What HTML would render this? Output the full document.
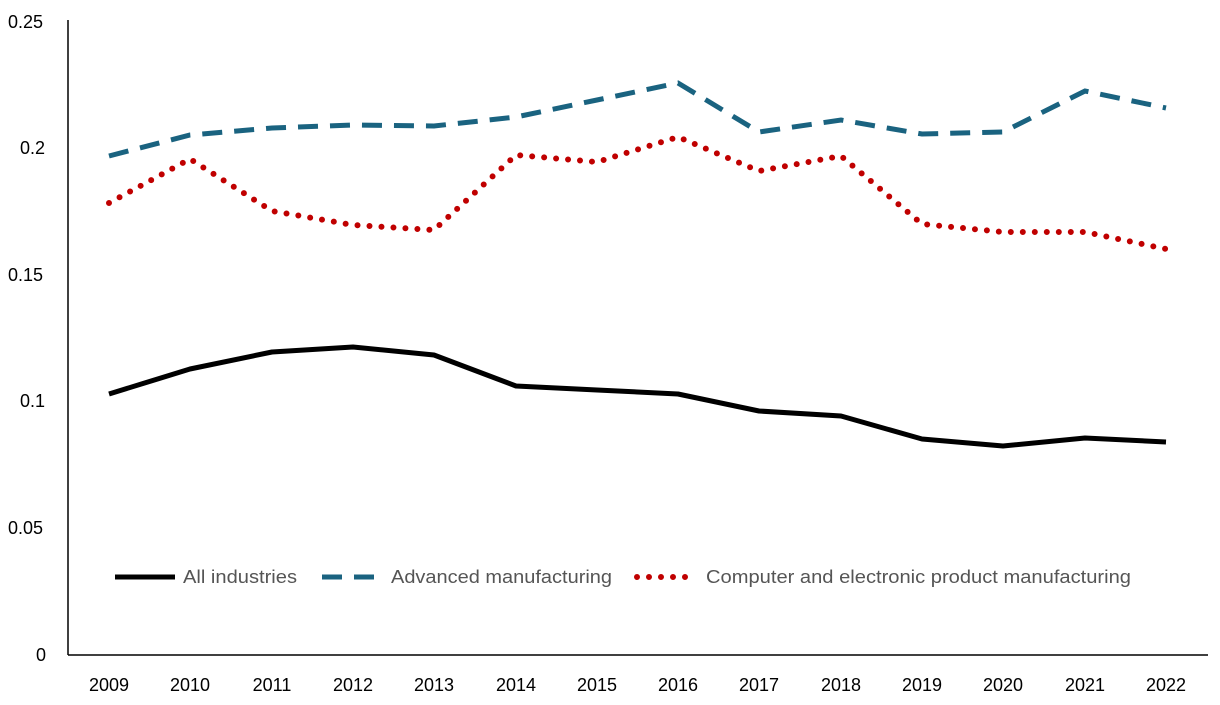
<!DOCTYPE html>
<html><head><meta charset="utf-8"><style>
html,body{margin:0;padding:0;background:#fff;}
svg{display:block;font-family:"Liberation Sans",sans-serif;}
</style></head><body>
<svg width="1220" height="705" viewBox="0 0 1220 705">
<line x1="68" y1="20" x2="68" y2="655" stroke="#000" stroke-width="1.5"/>
<line x1="68" y1="655" x2="1208" y2="655" stroke="#000" stroke-width="1.5"/>
<g font-size="18" fill="#000" text-anchor="start">
<text x="8" y="28">0.25</text>
<text x="20" y="154">0.2</text>
<text x="8" y="281">0.15</text>
<text x="20" y="407">0.1</text>
<text x="8" y="534">0.05</text>
<text x="36" y="661">0</text>
</g>
<g font-size="18" fill="#000" text-anchor="middle">
<text x="109" y="691">2009</text><text x="190" y="691">2010</text><text x="272" y="691">2011</text><text x="353" y="691">2012</text><text x="434" y="691">2013</text><text x="516" y="691">2014</text><text x="597" y="691">2015</text><text x="678" y="691">2016</text><text x="759" y="691">2017</text><text x="841" y="691">2018</text><text x="922" y="691">2019</text><text x="1003" y="691">2020</text><text x="1085" y="691">2021</text><text x="1166" y="691">2022</text>
</g>
<polyline fill="none" stroke="#000" stroke-width="5" stroke-linejoin="round" points="109,394 190,369 272,352 353,347 434,355 516,386 597,390 678,394 759,411 841,416 922,439 1003,446 1085,438 1166,442"/>
<polyline fill="none" stroke="#1a6380" stroke-width="5" stroke-dasharray="20,12" points="109,156 190,135 272,128 353,125 434,126 516,117 597,100 678,83 759,132 841,120 922,134 1003,132 1085,91 1166,108"/>
<polyline fill="none" stroke="#c00000" stroke-width="6" stroke-linecap="round" stroke-dasharray="0,12" points="109,203 190,159 272,211 353,225 434,230 516,155 597,162 678,137 759,171 841,156 922,224 1003,232 1085,232 1166,249"/>
<line x1="115" y1="577" x2="175" y2="577" stroke="#000" stroke-width="5"/>
<text x="183" y="583" font-size="18" fill="#555" textLength="114" lengthAdjust="spacingAndGlyphs">All industries</text>
<line x1="322" y1="577" x2="382" y2="577" stroke="#1a6380" stroke-width="5" stroke-dasharray="20,12"/>
<text x="391" y="583" font-size="18" fill="#555" textLength="221" lengthAdjust="spacingAndGlyphs">Advanced manufacturing</text>
<line x1="637" y1="577" x2="697" y2="577" stroke="#c00000" stroke-width="6" stroke-linecap="round" stroke-dasharray="0,12"/>
<text x="706" y="583" font-size="18" fill="#555" textLength="425" lengthAdjust="spacingAndGlyphs">Computer and electronic product manufacturing</text>
</svg>
</body></html>
